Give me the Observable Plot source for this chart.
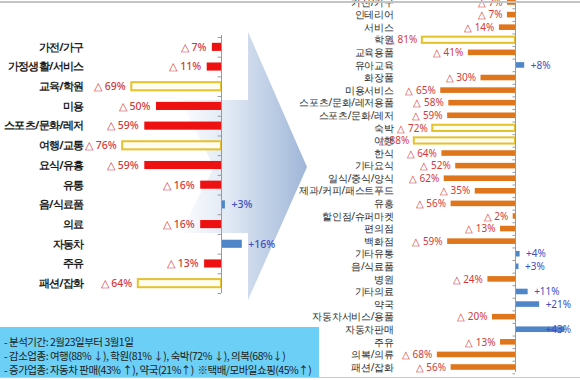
<!DOCTYPE html>
<html><head><meta charset="utf-8">
<script src="https://cdn.jsdelivr.net/npm/d3@7"></script>
<script src="https://cdn.jsdelivr.net/npm/@observablehq/plot@0.6"></script>
<style>
body{margin:0;background:#fff;}
#wrap{position:relative;width:580px;height:380px;overflow:hidden;font-family:"Noto Sans CJK KR","Noto Sans",sans-serif;background:#fff;}
#arrow{position:absolute;left:0;top:0;}
#left{position:absolute;left:0;top:0;}
#right{position:absolute;left:290px;top:0;}
#left svg g[aria-label="y-axis tick label"] text{letter-spacing:-0.7px;}
#right svg g[aria-label="y-axis tick label"] text{letter-spacing:-0.3px;}
#topline{position:absolute;left:0;top:1px;width:580px;height:2px;background:#c4c4c4;}
#botline{position:absolute;left:0;top:377px;width:580px;height:1px;background:#c8c8c8;}
#note{position:absolute;left:0;top:327px;width:319px;height:50px;background:#6ccff5;box-sizing:border-box;padding:8px 0 0 4px;font-size:10.5px;line-height:14px;color:#1b1b1b;letter-spacing:-0.5px;white-space:pre;}
</style></head><body>
<div id="wrap">
<svg id="arrow" width="580" height="380">
<defs><linearGradient id="g" x1="175" y1="0" x2="307" y2="0" gradientUnits="userSpaceOnUse">
<stop offset="0" stop-color="#ffffff"/><stop offset="0.4" stop-color="#e1e9f4"/><stop offset="1" stop-color="#9fb6d8"/></linearGradient></defs>
<polygon points="180,100 248,100 248,32 307,167 248,300 248,233 180,233 214,167" fill="url(#g)"/>
</svg>
<div id="left"></div>
<div id="right"></div>
<div id="topline"></div>
<div id="botline"></div>
<div id="note"></div>
</div>
<script>
// ---- data ----
const leftCats = ["가전/가구","가정생활/서비스","교육/학원","미용","스포츠/문화/레저","여행/교통","요식/유흥","유통","음/식료품","의료","자동차","주유","패션/잡화"];
const leftVals = [-7,-11,-69,-50,-59,-76,-59,-16,3,-16,16,-13,-64];
const leftHighlight = ["교육/학원","여행/교통","패션/잡화"];

const rightCats = ["가전/가구","인테리어","서비스","학원","교육용품","유아교육","화장품","미용서비스","스포츠/문화/레저용품","스포츠/문화/레저","숙박","여행","한식","기타요식","일식/중식/양식","제과/커피/패스트푸드","유흥","할인점/슈퍼마켓","편의점","백화점","기타유통","음/식료품","병원","기타의료","약국","자동차서비스/용품","자동차판매","주유","의복/의류","패션/잡화"];
const rightVals = [-7,-7,-14,-81,-41,8,-30,-65,-58,-59,-72,-88,-64,-52,-62,-35,-56,-2,-13,-59,4,3,-24,11,21,-20,43,-13,-68,-56];
const rightHighlight = ["학원","숙박","여행"];

const noteLines = [
  "- 분석기간: 2월23일부터 3월1일",
  "- 감소업종: 여행(88% ↓), 학원(81% ↓), 숙박(72% ↓), 의복(68%↓)",
  "- 증가업종: 자동차 판매(43% ↑), 약국(21%↑)  ※택배/모바일쇼핑(45%↑)"
];

const fmt = v => v < 0 ? `△ ${-v}%` : `+${v}%`;

function buildChart(cats, vals, hi, o) {
  const data = cats.map((c, i) => ({c, v: vals[i], hi: hi.includes(c)}));
  const neg = data.filter(d => d.v < 0);
  const pos = data.filter(d => d.v >= 0 && d.v <= o.fitMax);
  const posOver = data.filter(d => d.v > o.fitMax);
  const step = (o.yRange[1] - o.yRange[0]) / cats.length;
  return Plot.plot({
    width: o.width, height: o.height,
    marginLeft: o.marginLeft, marginRight: 0, marginTop: o.marginTop, marginBottom: o.marginBottom,
    style: {background: "transparent", overflow: "visible"},
    x: {domain: o.xDomain, range: o.xRange, axis: null},
    y: {domain: cats, range: o.yRange, padding: 0, round: false, axis: null},
    marks: [
      Plot.axisY({anchor: "left", label: null, tickSize: 0, tickPadding: o.tickPadding, fontSize: o.catSize, fontWeight: o.catWeight, fill: o.catColor}),
      Plot.barX(data.filter(d => !d.hi && d.v < 0), {x1: 0, x2: "v", y: "c", fill: o.negColor, insetTop: o.inset, insetBottom: o.inset}),
      Plot.barX(data.filter(d => d.v >= 0), {x1: 0, x2: "v", y: "c", fill: "#4f86c8", insetTop: o.inset, insetBottom: o.inset}),
      Plot.barX(data.filter(d => d.hi), {x1: 0, x2: "v", y: "c", fill: "#fffdf0", stroke: "#e5c12c", strokeWidth: 2, insetTop: o.hiInset, insetBottom: o.hiInset}),
      Plot.ruleX([0], {stroke: "#9a9a9a", strokeWidth: 1}),
      Plot.ruleY(cats, {y: d => d, x1: o.tick, x2: 0, dy: step / 2, stroke: "#9a9a9a"}),
      Plot.ruleY([cats[0]], {y: d => d, x1: o.tick, x2: 0, dy: -step / 2, stroke: "#9a9a9a"}),
      Plot.text(neg, {x: "v", y: "c", text: d => fmt(d.v), textAnchor: "end", dx: o.labelGap.neg, fill: "#d43a3a", fontSize: o.valSize, fontWeight: o.valWeight}),
      Plot.text(pos, {x: "v", y: "c", text: d => fmt(d.v), textAnchor: "start", dx: o.labelGap.pos, fill: "#3d4fc0", fontSize: o.valSize, fontWeight: o.valWeight}),
      Plot.text(posOver, {x: () => o.xDomain[1], y: "c", text: d => fmt(d.v), textAnchor: "end", dx: -2, fill: "#3d4fc0", fontSize: o.valSize, fontWeight: o.valWeight})
    ]
  });
}

document.getElementById("left").append(buildChart(leftCats, leftVals, leftHighlight, {
  width: 300, height: 300, marginLeft: 88, marginTop: 35, marginBottom: 7, tickPadding: 5,
  xDomain: [-100, 30], xRange: [91, 260], yRange: [37, 293],
  catSize: 10.5, catWeight: "bold", catColor: "#1e1e1e",
  negColor: "#ee1111", inset: 5.8, hiInset: 5.8, tick: -2.6, fitMax: 100,
  valSize: 10.5, valWeight: "500", labelGap: {neg: -6, pos: 6}
}));

document.getElementById("right").append(buildChart(rightCats, rightVals, rightHighlight, {
  width: 290, height: 380, marginLeft: 107, marginTop: 0, marginBottom: 8, tickPadding: 4,
  xDomain: [-100, 50], xRange: [110, 282.5], yRange: [-4.29, 373.29],
  catSize: 10, catWeight: "normal", catColor: "#2a2a2a",
  negColor: "#e0761c", inset: 3.5, hiInset: 3.2, tick: -2.2, fitMax: 35,
  valSize: 10, valWeight: "normal", labelGap: {neg: -5, pos: 6}
}));

const note = document.getElementById("note");
noteLines.forEach(t => { const d = document.createElement("div"); d.textContent = t; note.append(d); });
</script>
</body></html>
